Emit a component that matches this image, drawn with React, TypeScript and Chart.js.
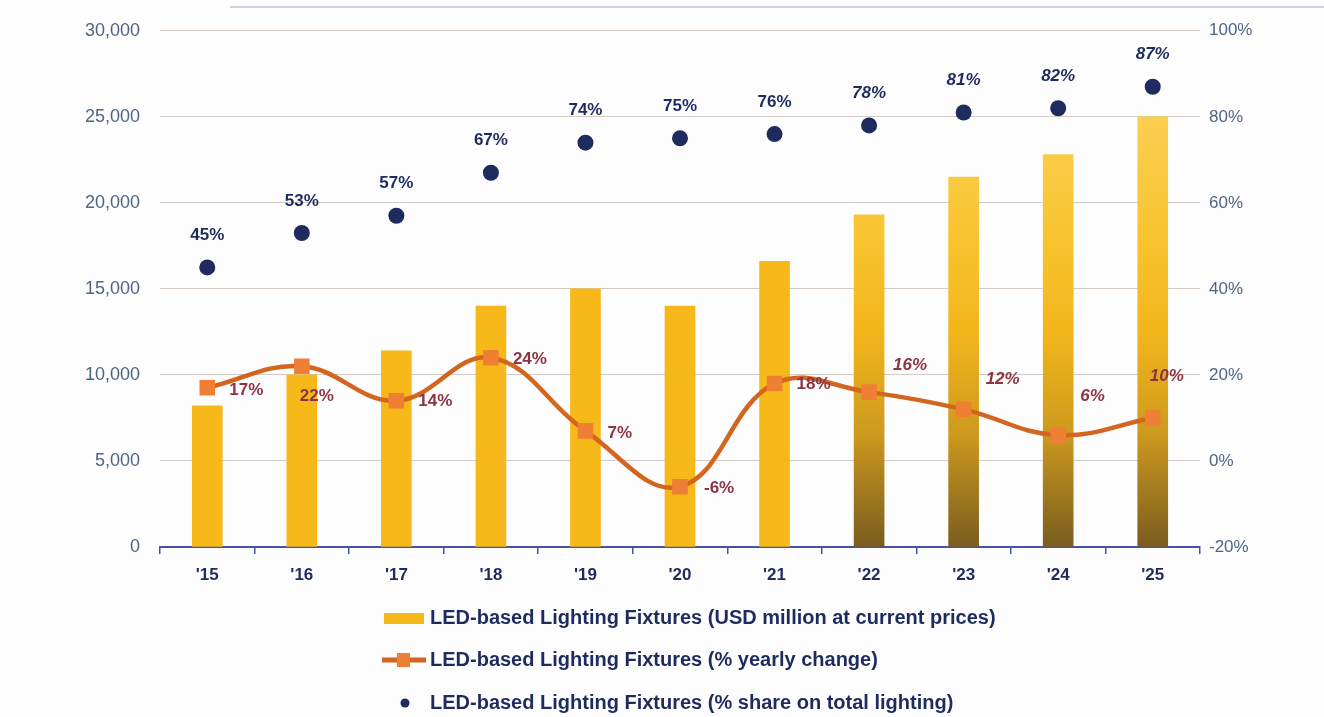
import React, { useEffect, useRef } from "react";
import { Chart, registerables } from "chart.js";

Chart.register(...registerables);

const CATEGORIES = ["'15", "'16", "'17", "'18", "'19", "'20", "'21", "'22", "'23", "'24", "'25"];
const FIXTURES_USD_M = [8200, 10000, 11400, 14000, 15000, 14000, 16600, 19300, 21500, 22800, 25000];
const YEARLY_CHANGE_PCT = [17, 22, 14, 24, 7, -6, 18, 16, 12, 6, 10];
const SHARE_PCT = [45, 53, 57, 67, 74, 75, 76, 78, 81, 82, 87];
const FIRST_FORECAST_INDEX = 7;
const LEFT_TICKS = { min: 0, max: 30000, step: 5000 };
const RIGHT_TICKS = { min: -20, max: 100, step: 20 };
const LEGEND_LABELS = [
  "LED-based Lighting Fixtures (USD million at current prices)",
  "LED-based Lighting Fixtures (% yearly change)",
  "LED-based Lighting Fixtures (% share on total lighting)",
];

// style: label offsets for yearly-change labels (dx = left edge offset, dy = vertical offset)
const CHANGE_LABEL_OFFSETS = [
  [22, 2], [-2, 30], [22, 1], [22, 2], [22, 2], [24, 2], [22, 1],
  [24, -27], [22, -30], [22, -39], [-3, -42],
];

const FONT = "'Liberation Sans', Arial, sans-serif";
const NAVY = "#1E2B5E";
const MAROON = "#8E3344";
const BAR_GOLD = "#F7B81A";
const LINE_COLOR = "#D2651F";
const MARKER_COLOR = "#EE7F35";
const TICK_COLOR = "#4F6585";

export default function App() {
  const ref = useRef<HTMLCanvasElement | null>(null);

  useEffect(() => {
    const canvas = ref.current!;
    const labelsPlugin = {
      id: "valueLabels",
      afterDatasetsDraw(chart: any) {
        const ctx = chart.ctx;
        ctx.save();
        const m2 = chart.getDatasetMeta(2);
        m2.data.forEach((pt: any, i: number) => {
          ctx.font = `${i >= FIRST_FORECAST_INDEX ? "italic " : ""}bold 17px ${FONT}`;
          ctx.fillStyle = NAVY;
          ctx.textAlign = "center";
          ctx.textBaseline = "middle";
          ctx.fillText(`${SHARE_PCT[i]}%`, pt.x, pt.y - 32);
        });
        const m1 = chart.getDatasetMeta(1);
        m1.data.forEach((pt: any, i: number) => {
          ctx.font = `${i >= FIRST_FORECAST_INDEX ? "italic " : ""}bold 17px ${FONT}`;
          ctx.fillStyle = MAROON;
          ctx.textAlign = "left";
          ctx.textBaseline = "middle";
          const [dx, dy] = CHANGE_LABEL_OFFSETS[i];
          ctx.fillText(`${YEARLY_CHANGE_PCT[i]}%`, pt.x + dx, pt.y + dy);
        });
        ctx.restore();
      },
    };

    const legendPlugin = {
      id: "customLegend",
      afterDraw(chart: any) {
        const ctx = chart.ctx;
        ctx.save();
        const textX = 430;
        const rows = [618, 660, 703];
        ctx.textAlign = "left";
        ctx.textBaseline = "middle";
        ctx.fillStyle = BAR_GOLD;
        ctx.fillRect(384, rows[0] - 5, 40, 11);
        ctx.strokeStyle = LINE_COLOR;
        ctx.lineWidth = 5;
        ctx.beginPath();
        ctx.moveTo(382, rows[1]);
        ctx.lineTo(426, rows[1]);
        ctx.stroke();
        ctx.fillStyle = MARKER_COLOR;
        ctx.fillRect(397, rows[1] - 7, 13, 14);
        ctx.fillStyle = NAVY;
        ctx.beginPath();
        ctx.arc(405, rows[2], 4.5, 0, Math.PI * 2);
        ctx.fill();
        ctx.font = `bold 20px ${FONT}`;
        ctx.fillStyle = NAVY;
        LEGEND_LABELS.forEach((t, i) => ctx.fillText(t, textX, rows[i]));
        ctx.restore();
      },
    };

    const bgPlugin = {
      id: "bg",
      beforeDraw(chart: any) {
        const ctx = chart.ctx;
        ctx.save();
        ctx.fillStyle = "#FDFDFD";
        ctx.fillRect(0, 0, chart.width, chart.height);
        ctx.strokeStyle = "#B9C0D4";
        ctx.lineWidth = 1.5;
        ctx.beginPath();
        ctx.moveTo(230, 7);
        ctx.lineTo(chart.width, 7);
        ctx.stroke();
        ctx.restore();
      },
    };

    const chart = new Chart(canvas, {
      type: "bar",
      data: {
        labels: CATEGORIES,
        datasets: [
          {
            type: "bar",
            label: LEGEND_LABELS[0],
            data: FIXTURES_USD_M,
            yAxisID: "y",
            order: 3,
            barThickness: 30,
            backgroundColor: (c: any) => {
              const i = c.dataIndex;
              const area = c.chart.chartArea;
              if (i === undefined || i < FIRST_FORECAST_INDEX || !area) return BAR_GOLD;
              const g = c.chart.ctx.createLinearGradient(0, area.top, 0, area.bottom);
              g.addColorStop(0, "#FBD868");
              g.addColorStop(0.4, "#F8C430");
              g.addColorStop(0.58, "#F3B61A");
              g.addColorStop(0.78, "#CD9A1E");
              g.addColorStop(1, "#7A5C1E");
              return g;
            },
          } as any,
          {
            type: "line",
            label: LEGEND_LABELS[1],
            data: YEARLY_CHANGE_PCT,
            yAxisID: "y1",
            order: 2,
            borderColor: LINE_COLOR,
            borderWidth: 4.5,
            tension: 0.4,
            pointStyle: "rect",
            pointRadius: 11,
            pointBackgroundColor: MARKER_COLOR,
            pointBorderWidth: 0,
            pointBorderColor: MARKER_COLOR,
          } as any,
          {
            type: "line",
            label: LEGEND_LABELS[2],
            data: SHARE_PCT,
            yAxisID: "y1",
            order: 1,
            showLine: false,
            pointStyle: "circle",
            pointRadius: 8,
            pointBackgroundColor: NAVY,
            pointBorderWidth: 0,
            borderColor: NAVY,
          } as any,
        ],
      },
      options: {
        responsive: false,
        animation: false,
        layout: { padding: { top: 30, left: 0, right: 0, bottom: 0 } },
        plugins: { legend: { display: false }, tooltip: { enabled: false } },
        scales: {
          x: {
            offset: true,
            grid: {
              offset: true,
              drawOnChartArea: false,
              drawTicks: true,
              tickLength: 7,
              color: "#4453A6",
              lineWidth: 1.5,
            },
            border: { color: "#4453A6", width: 2 },
            ticks: {
              padding: 11,
              color: NAVY,
              font: { family: FONT, size: 17, weight: "bold" },
            },
            afterFit(scale: any) {
              scale.height = 170;
            },
          },
          y: {
            position: "left",
            min: LEFT_TICKS.min,
            max: LEFT_TICKS.max,
            grid: { color: "#D3CAC3", lineWidth: 1, drawTicks: false },
            border: { display: false },
            ticks: {
              stepSize: LEFT_TICKS.step,
              padding: 20,
              color: TICK_COLOR,
              font: { family: FONT, size: 18 },
              callback: (v: any) => Number(v).toLocaleString("en-US"),
            },
            afterFit(scale: any) {
              scale.width = 160;
            },
          },
          y1: {
            position: "right",
            min: RIGHT_TICKS.min,
            max: RIGHT_TICKS.max,
            grid: { drawOnChartArea: false, drawTicks: false },
            border: { display: false },
            ticks: {
              stepSize: RIGHT_TICKS.step,
              padding: 9,
              color: TICK_COLOR,
              font: { family: FONT, size: 17 },
              callback: (v: any) => `${v}%`,
            },
            afterFit(scale: any) {
              scale.width = 124;
            },
          },
        },
      },
      plugins: [bgPlugin, labelsPlugin, legendPlugin],
    });
    return () => chart.destroy();
  }, []);

  return (
    <div style={{ position: "absolute", left: 0, top: 0, width: 1324, height: 717 }}>
      <canvas ref={ref} width={1324} height={717} />
    </div>
  );
}
